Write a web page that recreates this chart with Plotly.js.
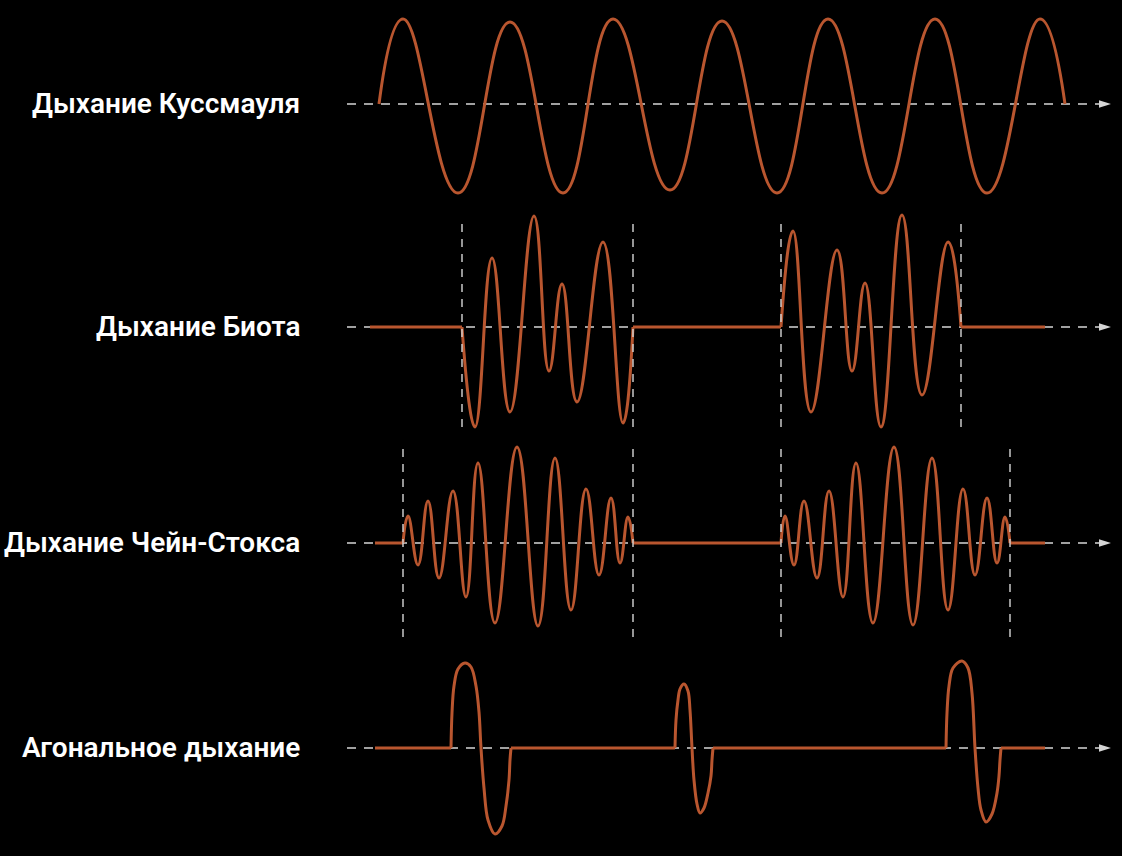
<!DOCTYPE html>
<html>
<head>
<meta charset="utf-8">
<script src="https://cdn.plot.ly/plotly-3.0.1.min.js"></script>
<style>html,body{margin:0;padding:0;background:#000;}#chart{width:1122px;height:856px;}</style>
</head>
<body>
<div id="chart"></div>
<script>
// ---------- DATA (time in px-like units, amplitude positive = up) ----------
const rowLabels = ['Дыхание Куссмауля', 'Дыхание Биота', 'Дыхание Чейн-Стокса', 'Агональное дыхание'];

// Kussmaul: deep regular breaths (start, peaks/troughs, end)
const kussmaulT = [379, 403, 458, 510, 563, 613, 670, 722, 777, 828, 882, 935, 987, 1040, 1065];
const kussmaulA = [0, 85, -89, 82, -89, 85, -86, 83, -89, 85, -89, 85, -89, 85, 0];

// Biot: bursts separated by apnoea
const biotFlatT = [370, 462, null, 633, 781, null, 961, 1045];
const biotFlatA = [0, 0, null, 0, 0, null, 0, 0];
const biotBurst1T = [462, 475, 492, 510, 534, 549, 562, 577, 603, 623, 633];
const biotBurst1A = [0, -100, 69, -85, 111, -44, 43, -75, 85, -96, 0];
const biotBurst2T = [781, 793, 811, 837, 852, 865, 881, 902, 922, 948, 961];
const biotBurst2A = [0, 96, -85, 77, -44, 44, -100, 112, -68, 85, 0];
const biotMarkers = [462, 633, 781, 961];

// Cheyne-Stokes: crescendo-decrescendo bursts
const csFlatT = [375, 403, null, 633, 781, null, 1010, 1045];
const csFlatA = [0, 0, null, 0, 0, null, 0, 0];
const csBurst1T = [403, 408, 418, 428, 439, 453, 466, 478, 495, 517, 538, 555, 571, 586, 599, 611, 620, 628, 633];
const csBurst1A = [0, 27, -22, 42, -35, 52, -54, 80, -80, 96, -83, 85, -67, 54, -32, 45, -20, 26, 0];
const csBurst2T = [781, 785, 794, 804, 817, 829, 843, 856, 873, 894, 913, 932, 948, 963, 975, 987, 997, 1005, 1010];
const csBurst2A = [0, 27, -22, 42, -35, 52, -54, 80, -80, 96, -82, 85, -67, 54, -32, 45, -20, 26, 0];
const csMarkers = [403, 633, 781, 1010];

// Agonal: rare single gasps
const agonalFlatT = [375, 451, null, 511, 675, null, 713, 946, null, 1001, 1045];
const agonalFlatA = [0, 0, null, 0, 0, null, 0, 0, null, 0, 0];
const agonalGasp1T = [451, 452, 454, 458, 465, 471, 476, 479, 481, 484, 488, 495, 502, 506, 509, 510, 511];
const agonalGasp1A = [0, 35, 62, 79, 85, 81, 62, 36, 0, -40, -72, -86, -78, -58, -32, -12, 0];
const agonalGasp2T = [675, 676, 678, 680, 684, 688, 690, 692, 694, 697, 700, 704, 708, 711, 712, 713];
const agonalGasp2A = [0, 28, 48, 59, 64, 57, 38, 0, -32, -56, -65, -60, -45, -28, -12, 0];
const agonalGasp3T = [946, 947, 949, 953, 962, 968, 972, 975, 978, 981, 986, 992, 997, 999, 1000, 1001];
const agonalGasp3A = [0, 35, 62, 80, 87, 80, 55, 0, -40, -62, -74, -66, -45, -28, -12, 0];

// ---------- LAYOUT CONSTANTS ----------
const W = 1122, H = 856;
const baselines = [104, 327, 543, 748];   // pixel rows of the baselines
const halfRange = [104, 130, 130, 108];
const curveColor = '#b9562f';
const guideColor = '#d6d6d6';
const axisStart = 347, axisEnd = 1099, arrowTip = 1111;
const labelRight = 302;

const yNames = ['y', 'y2', 'y3', 'y4'];
const layoutAxes = {};
baselines.forEach((b, i) => {
  const h = halfRange[i];
  const c = 1 - b / H;
  const key = i === 0 ? 'yaxis' : 'yaxis' + (i + 1);
  layoutAxes[key] = {
    domain: [Math.max(0, c - h / H), Math.min(1, c + h / H)],
    range: [-h, h], visible: false, fixedrange: true, anchor: 'x'
  };
});

function curve(t, a, row, shape, smoothing) {
  return {
    x: t, y: a, xaxis: 'x', yaxis: yNames[row], type: 'scatter', mode: 'lines',
    line: {color: curveColor, width: 3, shape: shape, smoothing: smoothing || 1},
    hoverinfo: 'skip', showlegend: false, connectgaps: false
  };
}

const traces = [
  curve(kussmaulT, kussmaulA, 0, 'spline', 1.3),
  curve(biotFlatT, biotFlatA, 1, 'linear'),
  curve(biotBurst1T, biotBurst1A, 1, 'spline', 1.3),
  curve(biotBurst2T, biotBurst2A, 1, 'spline', 1.3),
  curve(csFlatT, csFlatA, 2, 'linear'),
  curve(csBurst1T, csBurst1A, 2, 'spline', 1.3),
  curve(csBurst2T, csBurst2A, 2, 'spline', 1.3),
  curve(agonalFlatT, agonalFlatA, 3, 'linear'),
  curve(agonalGasp1T, agonalGasp1A, 3, 'spline', 1),
  curve(agonalGasp2T, agonalGasp2A, 3, 'spline', 1),
  curve(agonalGasp3T, agonalGasp3A, 3, 'spline', 1)
];

const shapes = [];
const annotations = [];
baselines.forEach((b, i) => {
  const yr = yNames[i];
  shapes.push({type: 'line', xref: 'x', yref: yr, x0: axisStart, x1: axisEnd, y0: 0, y1: 0,
    line: {color: guideColor, width: 1.6, dash: '9px,8px'}, layer: 'below'});
  shapes.push({type: 'path', xref: 'x', yref: yr,
    path: `M ${axisEnd} -3.8 L ${arrowTip} 0 L ${axisEnd} 3.8 Z`,
    fillcolor: guideColor, line: {width: 0}, layer: 'below'});
  annotations.push({xref: 'paper', yref: yr, x: labelRight / W, y: 1, xanchor: 'right', yanchor: 'middle',
    text: rowLabels[i], showarrow: false,
    font: {family: 'Roboto, sans-serif', size: 28, color: '#ffffff', weight: 600}});
});
biotMarkers.forEach(t => shapes.push({type: 'line', xref: 'x', yref: 'y2', x0: t, x1: t, y0: -100, y1: 104,
  line: {color: guideColor, width: 1.4, dash: '8px,7px'}, layer: 'above'}));
csMarkers.forEach(t => shapes.push({type: 'line', xref: 'x', yref: 'y3', x0: t, x1: t, y0: -94, y1: 96,
  line: {color: guideColor, width: 1.4, dash: '8px,7px'}, layer: 'above'}));

const layout = Object.assign({
  width: W, height: H,
  margin: {l: 0, r: 0, t: 0, b: 0, pad: 0},
  paper_bgcolor: '#000000', plot_bgcolor: 'rgba(0,0,0,0)',
  showlegend: false,
  xaxis: {range: [0, W], visible: false, fixedrange: true, domain: [0, 1]},
  shapes: shapes, annotations: annotations
}, layoutAxes);

Plotly.newPlot('chart', traces, layout, {staticPlot: true, displayModeBar: false});
</script>
</body>
</html>
